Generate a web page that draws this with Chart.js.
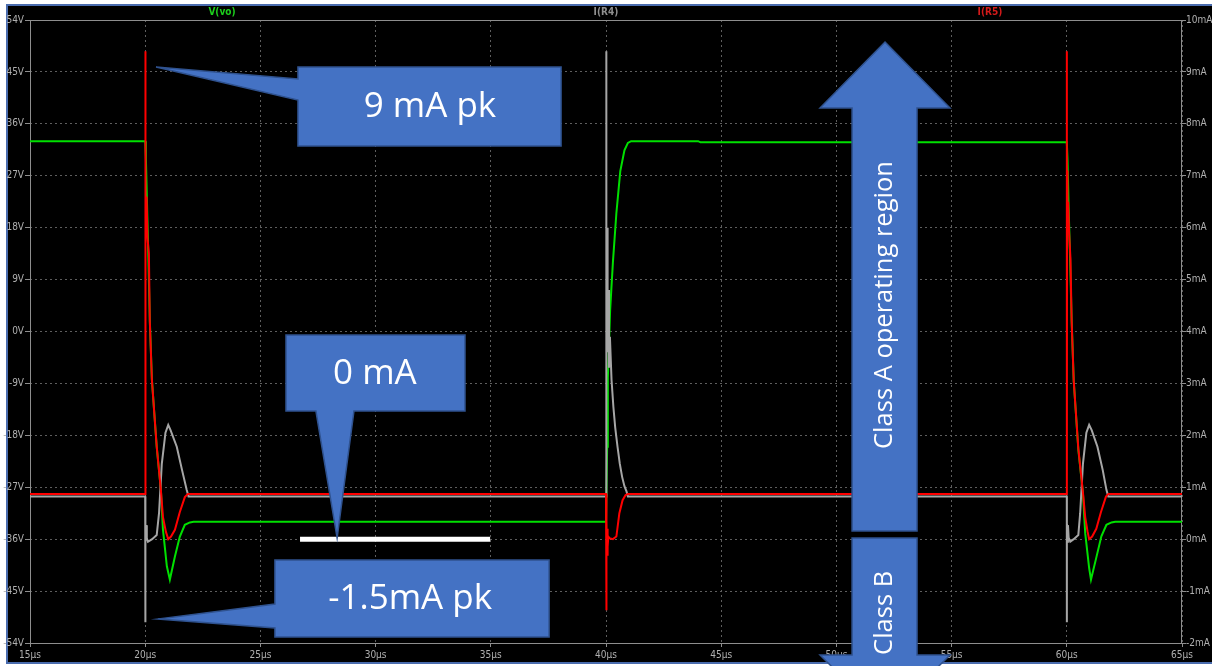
<!DOCTYPE html>
<html>
<head>
<meta charset="utf-8">
<script src="https://cdn.jsdelivr.net/npm/chart.js@4.4.0/dist/chart.umd.min.js"></script>
<style>
  html, body { margin: 0; padding: 0; background: #ffffff; }
  canvas { display: block; }
</style>
</head>
<body>
<canvas id="scope" width="1212" height="666"></canvas>
<script>
// ---- Transient waveforms (time in µs) ----
// V(vo), volts, left axis
const timeVo = [15, 20.0, 20.03, 20.08, 20.13, 20.2, 20.29, 20.5, 20.68, 20.77, 20.94, 21.07, 21.29, 21.5, 21.72, 21.94, 22.1,
  40.0, 40.05, 40.08, 40.18, 40.3, 40.45, 40.62, 40.8, 40.95, 41.09, 44.0, 44.1,
  60.0, 60.03, 60.08, 60.14, 60.21, 60.3, 60.5, 60.7, 60.8, 60.97, 61.05, 61.28, 61.5, 61.72, 61.94, 62.1, 65];
const vo = [33, 33, 30, 22, 14, 2, -8.3, -20, -27.4, -34.3, -40.7, -43, -39, -35.6, -33.5, -33.1, -33,
  -33, -20, -8, 3.8, 12, 20.5, 27.8, 31.4, 32.7, 33, 33, 32.8,
  32.8, 30, 21.5, 13, 2, -8.5, -20.5, -28, -35, -41, -43, -39.2, -35.5, -33.5, -33.1, -33, -33];

// I(R4), mA, right axis
const timeR4 = [15, 20.0, 20.0, 20.006, 20.02, 20.04, 20.07, 20.12, 20.3, 20.5, 20.6, 20.72, 20.88, 21.0, 21.1, 21.37, 21.6, 21.8, 21.88,
  40.0, 40.0, 40.01, 40.02, 40.03, 40.05, 40.07, 40.1, 40.13, 40.17, 40.24, 40.32, 40.4, 40.5, 40.6, 40.7, 40.8, 40.89, 40.95,
  60.0, 60.0, 60.006, 60.02, 60.05, 60.08, 60.15, 60.3, 60.5, 60.58, 60.7, 60.85, 60.97, 61.08, 61.33, 61.56, 61.72, 61.8, 65];
const iR4 = [0.82, 0.82, -1.6, 0.3, -0.05, 0.27, 0.02, -0.05, 0.0, 0.08, 0.5, 1.45, 2.05, 2.2, 2.1, 1.78, 1.33, 0.95, 0.82,
  0.82, 9.4, 5.6, 7.2, 4.6, 6.0, 3.6, 4.8, 3.3, 3.9, 3.07, 2.55, 2.15, 1.78, 1.45, 1.2, 1.02, 0.92, 0.82,
  0.82, -1.6, 0.28, -0.05, 0.27, 0.03, -0.05, 0.0, 0.08, 0.5, 1.45, 2.05, 2.2, 2.1, 1.78, 1.33, 0.95, 0.82, 0.82];

// I(R5), mA, right axis
const timeR5 = [15, 20.0, 20.0, 20.004, 20.012, 20.03, 20.06, 20.1, 20.16, 20.2, 20.29, 20.5, 20.68, 20.77, 20.9, 21.0, 21.12, 21.29, 21.5, 21.72, 21.85,
  40.0, 40.01, 40.02, 40.03, 40.045, 40.06, 40.08, 40.1, 40.15, 40.3, 40.45, 40.58, 40.72, 40.85, 40.95,
  60.0, 60.0, 60.004, 60.012, 60.03, 60.06, 60.1, 60.16, 60.21, 60.3, 60.5, 60.7, 60.8, 60.9, 60.97, 61.1, 61.28, 61.48, 61.7, 61.8, 65];
const iR5 = [0.87, 0.87, 9.4, 0.9, 7.0, 6.1, 6.6, 5.8, 5.5, 4.2, 3.07, 1.78, 0.95, 0.43, 0.14, 0.0, 0.05, 0.18, 0.52, 0.81, 0.87,
  0.87, 0.55, -1.37, 0.35, -0.3, 0.2, -0.15, 0.05, 0.02, 0.0, 0.05, 0.5, 0.75, 0.85, 0.87,
  0.87, 9.4, 0.9, 7.1, 6.0, 6.5, 5.9, 5.4, 4.2, 3.05, 1.75, 0.9, 0.42, 0.15, 0.0, 0.05, 0.2, 0.52, 0.82, 0.87, 0.87];

// ---- Axis ticks ----
const timeTicks = [15, 20, 25, 30, 35, 40, 45, 50, 55, 60, 65];
const voltTicks = [-54, -45, -36, -27, -18, -9, 0, 9, 18, 27, 36, 45, 54];
const mATicks = [-2, -1, 0, 1, 2, 3, 4, 5, 6, 7, 8, 9, 10];

// ---- Trace names shown above the plot ----
const traceNames = ['V(vo)', 'I(R4)', 'I(R5)'];
const traceColors = ['#00e000', '#a6a6a6', '#ff0000'];
const nameColors = ['#1ccf1c', '#8f8f8f', '#d41a1a'];

const pairs = (xs, ys) => xs.map((x, i) => ({ x: x, y: ys[i] }));

const narrowFamily = "'Liberation Sans Narrow', 'DejaVu Sans Condensed', sans-serif";
const tickFont = { family: narrowFamily, size: 10 };
const tickColor = '#b0b0b0';
const gridColor = '#5e5e5e';
const frameColor = '#8e8e8e';

// Callouts, expressed in axis units (time µs, current mA on the right axis)
const calloutFont = "35px 'Open Sans', 'Liberation Sans', sans-serif";
const arrowFont = "25.5px 'Open Sans', 'Liberation Sans', sans-serif";
const callouts = [
  { text: '9 mA pk', at: [32.36, 8.32],
    shape: [[26.63, 9.095], [38.05, 9.095], [38.05, 7.573], [26.63, 7.573], [26.63, 8.459], [20.47, 9.095], [26.63, 8.864]] },
  { text: '0 mA', at: [29.97, 3.18],
    shape: [[26.11, 3.932], [33.88, 3.932], [33.88, 2.468], [29.06, 2.468], [28.33, 0.022], [27.41, 2.468], [26.11, 2.468]] },
  { text: '-1.5mA pk', at: [31.50, -1.153],
    shape: [[25.63, -0.401], [37.53, -0.401], [37.53, -1.884], [25.63, -1.884], [25.63, -1.711], [20.56, -1.538], [25.63, -1.249]] }
];
const arrows = [
  { text: 'Class A operating region', at: [52.11, 4.51],
    shape: [[52.11, 9.576], [54.93, 8.305], [53.50, 8.305], [53.50, 0.157], [50.68, 0.157], [50.68, 8.305], [49.29, 8.305]] },
  { text: 'Class B', at: [52.11, -1.42],
    shape: [[50.68, 0.022], [53.50, 0.022], [53.50, -2.230], [54.93, -2.230], [52.11, -3.482], [49.29, -2.230], [50.68, -2.230]] }
];
// White marker bar on the 0 mA level
const zeroBar = { from: 26.72, to: 34.97, level: 0 };

const scopeFrame = {
  id: 'scopeFrame',
  beforeDraw(chart) {
    const ctx = chart.ctx;
    ctx.save();
    ctx.fillStyle = '#ffffff';
    ctx.fillRect(0, 0, chart.width, chart.height);
    ctx.fillStyle = '#000000';
    ctx.fillRect(7, 5, chart.width - 7, chart.height - 8);
    ctx.strokeStyle = '#4a6cae';
    ctx.lineWidth = 2;
    ctx.beginPath();
    ctx.moveTo(chart.width, 5);
    ctx.lineTo(7, 5);
    ctx.lineTo(7, chart.height - 3);
    ctx.lineTo(chart.width, chart.height - 3);
    ctx.stroke();
    ctx.restore();
  },
  beforeDatasetsDraw(chart) {
    const ctx = chart.ctx;
    const a = chart.chartArea;
    ctx.save();
    ctx.strokeStyle = frameColor;
    ctx.lineWidth = 1;
    ctx.strokeRect(a.left + 0.5, a.top + 0.5, a.right - a.left - 1, a.bottom - a.top);
    ctx.font = "bold 10px " + narrowFamily;
    ctx.textAlign = 'center';
    ctx.textBaseline = 'middle';
    traceNames.forEach((name, i) => {
      ctx.fillStyle = nameColors[i];
      const fx = [1 / 6, 1 / 2, 5 / 6][i];
      ctx.fillText(name, a.left + (a.right - a.left) * fx, 12.5);
    });
    ctx.restore();
  },
  afterDraw(chart) {
    const ctx = chart.ctx;
    const sx = chart.scales.x, sy = chart.scales.yI;
    const P = (p) => [sx.getPixelForValue(p[0]), sy.getPixelForValue(p[1])];
    ctx.save();
    // white bar at 0 mA
    ctx.strokeStyle = '#ffffff';
    ctx.lineWidth = 5;
    ctx.beginPath();
    ctx.moveTo(sx.getPixelForValue(zeroBar.from), sy.getPixelForValue(zeroBar.level));
    ctx.lineTo(sx.getPixelForValue(zeroBar.to), sy.getPixelForValue(zeroBar.level));
    ctx.stroke();

    const drawShape = (shape) => {
      ctx.beginPath();
      shape.forEach((p, i) => {
        const q = P(p);
        if (i === 0) ctx.moveTo(q[0], q[1]); else ctx.lineTo(q[0], q[1]);
      });
      ctx.closePath();
      ctx.fillStyle = '#4472c4';
      ctx.fill();
      ctx.strokeStyle = '#2f528f';
      ctx.lineWidth = 1.5;
      ctx.stroke();
    };
    ctx.textAlign = 'center';
    ctx.textBaseline = 'middle';
    callouts.forEach(c => {
      drawShape(c.shape);
      const q = P(c.at);
      ctx.font = calloutFont;
      ctx.fillStyle = '#ffffff';
      ctx.fillText(c.text, q[0], q[1]);
    });
    arrows.forEach(c => {
      drawShape(c.shape);
      const q = P(c.at);
      ctx.save();
      ctx.translate(q[0], q[1]);
      ctx.rotate(-Math.PI / 2);
      ctx.fillStyle = '#ffffff';
      ctx.font = arrowFont;
      ctx.fillText(c.text, 0, 0);
      ctx.restore();
    });
    ctx.restore();
  }
};

const lineSet = (label, xs, ys, axis, color, order) => ({
  label: label,
  data: pairs(xs, ys),
  yAxisID: axis,
  borderColor: color,
  backgroundColor: color,
  borderWidth: 2,
  pointRadius: 0,
  tension: 0,
  fill: false,
  order: order
});

new Chart(document.getElementById('scope'), {
  type: 'line',
  data: {
    datasets: [
      lineSet(traceNames[2], timeR5, iR5, 'yI', traceColors[2], 0),
      lineSet(traceNames[1], timeR4, iR4, 'yI', traceColors[1], 1),
      lineSet(traceNames[0], timeVo, vo, 'yV', traceColors[0], 2)
    ]
  },
  options: {
    responsive: false,
    animation: false,
    devicePixelRatio: 1,
    layout: { padding: { top: 20, left: 0, right: 0, bottom: 0 } },
    plugins: { legend: { display: false }, tooltip: { enabled: false }, title: { display: false } },
    scales: {
      x: {
        type: 'linear', min: 15, max: 65,
        afterBuildTicks: s => { s.ticks = timeTicks.map(v => ({ value: v })); },
        afterFit: s => { s.height = 23; },
        ticks: { callback: v => v + 'µs', color: tickColor, font: tickFont, padding: 2, maxRotation: 0, autoSkip: false },
        grid: { color: gridColor, tickColor: frameColor, tickLength: 4, lineWidth: 1 },
        border: { display: false, dash: [2, 3] }
      },
      yV: {
        type: 'linear', position: 'left', min: -54, max: 54,
        afterBuildTicks: s => { s.ticks = voltTicks.map(v => ({ value: v })); },
        afterFit: s => { s.width = 30; },
        ticks: { callback: v => v + 'V', color: tickColor, font: tickFont, padding: 1, autoSkip: false },
        grid: { color: gridColor, tickColor: frameColor, tickLength: 5, lineWidth: 1 },
        border: { display: false, dash: [2, 3] }
      },
      yI: {
        type: 'linear', position: 'right', min: -2, max: 10,
        afterBuildTicks: s => { s.ticks = mATicks.map(v => ({ value: v })); },
        afterFit: s => { s.width = 30; },
        ticks: { callback: v => v + 'mA', color: tickColor, font: tickFont, padding: 0, autoSkip: false },
        grid: { drawOnChartArea: false, tickColor: frameColor, tickLength: 4 },
        border: { display: false }
      }
    }
  },
  plugins: [scopeFrame]
});
</script>
</body>
</html>
